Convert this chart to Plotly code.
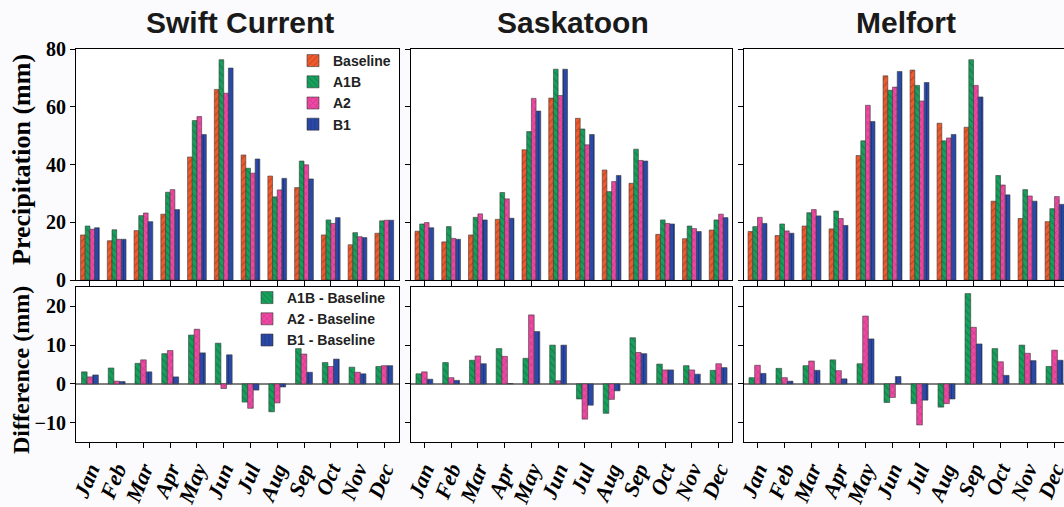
import plotly.graph_objects as go

months = ["Jan", "Feb", "Mar", "Apr", "May", "Jun", "Jul", "Aug", "Sep", "Oct", "Nov", "Dec"]
stations = ["Swift Current", "Saskatoon", "Melfort"]
scenario_names = ["Baseline", "A1B", "A2", "B1"]
diff_names = ["A1B - Baseline", "A2 - Baseline", "B1 - Baseline"]

# Monthly precipitation (mm)
sc_baseline = [15.6, 13.6, 17.1, 22.8, 42.6, 66.0, 43.3, 36.0, 32.0, 15.6, 12.2, 16.2]
sc_a1b = [18.7, 17.4, 22.3, 30.4, 55.2, 76.3, 38.7, 28.8, 41.2, 20.8, 16.4, 20.5]
sc_a2 = [17.6, 14.1, 23.2, 31.3, 56.6, 64.7, 37.0, 31.2, 39.9, 19.6, 15.0, 20.7]
sc_b1 = [18.1, 14.1, 20.2, 24.4, 50.4, 73.4, 41.9, 35.2, 35.0, 21.6, 14.7, 20.7]

sk_baseline = [16.9, 13.2, 15.6, 21.0, 45.1, 63.0, 56.0, 38.1, 33.5, 15.8, 14.3, 17.3]
sk_a1b = [19.4, 18.5, 21.7, 30.3, 51.4, 73.0, 52.3, 30.6, 45.3, 20.8, 18.7, 20.8]
sk_a2 = [19.9, 14.4, 22.9, 28.1, 62.9, 63.9, 46.8, 34.1, 41.4, 19.6, 17.8, 22.8]
sk_b1 = [18.1, 14.1, 20.8, 21.4, 58.5, 73.0, 50.4, 36.2, 41.2, 19.4, 16.8, 21.6]

mf_baseline = [16.8, 15.4, 18.7, 17.7, 43.1, 70.7, 72.7, 54.3, 52.9, 27.3, 21.3, 20.2]
mf_a1b = [18.5, 19.4, 23.3, 23.9, 48.2, 65.7, 67.4, 48.2, 76.3, 36.2, 31.3, 24.7]
mf_a2 = [21.7, 17.0, 24.4, 21.3, 60.5, 66.8, 62.0, 49.2, 67.4, 32.9, 29.1, 28.9]
mf_b1 = [19.6, 16.2, 22.2, 18.9, 54.9, 72.2, 68.4, 50.4, 63.4, 29.5, 27.3, 26.2]

# Differences from baseline (mm)
sc_d_a1b = [3.1, 4.1, 5.3, 7.8, 12.6, 10.5, -4.7, -7.2, 9.1, 5.5, 4.3, 4.5]
sc_d_a2 = [1.8, 0.7, 6.2, 8.6, 14.1, -1.2, -6.3, -4.9, 7.7, 4.5, 3.0, 4.7]
sc_d_b1 = [2.3, 0.6, 3.1, 1.8, 8.0, 7.5, -1.6, -0.8, 3.0, 6.4, 2.6, 4.7]

sk_d_a1b = [2.6, 5.5, 6.1, 9.1, 6.6, 10.0, -3.9, -7.6, 11.9, 5.1, 4.7, 3.5]
sk_d_a2 = [3.1, 1.6, 7.2, 7.1, 17.8, 0.8, -9.1, -4.0, 8.1, 3.6, 3.6, 5.2]
sk_d_b1 = [1.2, 0.9, 5.2, 0.1, 13.5, 10.0, -5.5, -1.8, 7.8, 3.6, 2.5, 4.2]

mf_d_a1b = [1.6, 4.0, 4.7, 6.2, 5.2, -4.8, -5.1, -6.0, 23.3, 9.1, 10.0, 4.5]
mf_d_a2 = [4.8, 1.6, 5.9, 3.4, 17.5, -3.5, -10.6, -5.1, 14.6, 5.7, 7.9, 8.7]
mf_d_b1 = [2.7, 0.7, 3.5, 1.3, 11.6, 1.9, -4.2, -3.9, 10.3, 2.2, 6.0, 6.1]

precip = [
    [sc_baseline, sc_a1b, sc_a2, sc_b1],
    [sk_baseline, sk_a1b, sk_a2, sk_b1],
    [mf_baseline, mf_a1b, mf_a2, mf_b1],
]
diffs = [
    [sc_d_a1b, sc_d_a2, sc_d_b1],
    [sk_d_a1b, sk_d_a2, sk_d_b1],
    [mf_d_a1b, mf_d_a2, mf_d_b1],
]

W, H = 1064, 507
def px(x):
    return x / W
def py(y):
    return 1 - y / H

styles = {
    "Baseline": dict(bg="#ee5a2c", fg="#7a2410", shape="/"),
    "A1B": dict(bg="#16a05c", fg="#0a4f2c", shape="\\"),
    "A2": dict(bg="#ee48a2", fg="#8c1c5c", shape="x"),
    "B1": dict(bg="#2a48a8", fg="#14245e", shape="|"),
}

fig = go.Figure()

top_w = 0.175
bot_w = 0.21
for s in range(3):
    xa_top = "x" if s == 0 else f"x{s+1}"
    ya_top = "y" if s == 0 else f"y{s+1}"
    xa_bot = f"x{s+4}"
    ya_bot = f"y{s+4}"
    for i, name in enumerate(scenario_names):
        st = styles[name]
        fig.add_trace(go.Bar(
            x=months, y=precip[s][i], name=name,
            xaxis=xa_top, yaxis=ya_top,
            width=top_w, offset=-2 * top_w + i * top_w,
            marker=dict(color=st["bg"], line=dict(color="#3a3a3a", width=0.6),
                        pattern=dict(shape=st["shape"], fgcolor=st["fg"], size=5,
                                     solidity=0.2, fillmode="overlay")),
            showlegend=(s == 0), legend="legend",
        ))
    for i, name in enumerate(diff_names):
        st = styles[scenario_names[i + 1]]
        fig.add_trace(go.Bar(
            x=months, y=diffs[s][i], name=name,
            xaxis=xa_bot, yaxis=ya_bot,
            width=bot_w, offset=-1.5 * bot_w + i * bot_w,
            marker=dict(color=st["bg"], line=dict(color="#3a3a3a", width=0.6),
                        pattern=dict(shape=st["shape"], fgcolor=st["fg"], size=5,
                                     solidity=0.2, fillmode="overlay")),
            showlegend=(s == 0), legend="legend2",
        ))

tickfont = dict(family="Liberation Serif", size=20, color="black", weight="bold")
xtickfont = dict(family="Liberation Serif", size=22, color="black", weight="bold", style="italic")

xdomains = [[px(76), px(399)], [px(411), px(732)], [px(744), 1.0]]
xranges = [[-0.52, 11.55], [-0.5, 11.5], [-0.5, 11.35]]
top_dom = [py(280), py(49)]
bot_dom = [py(442), py(287)]

layout = dict(
    template="none",
    width=W, height=H, autosize=False,
    margin=dict(l=0, r=0, t=0, b=0, pad=0),
    paper_bgcolor="#fbfbfd", plot_bgcolor="white",
    barmode="overlay",
    font=dict(family="Liberation Sans", color="black"),
)

for s in range(3):
    sfx_top = "" if s == 0 else str(s + 1)
    sfx_bot = str(s + 4)
    common_x = dict(domain=xdomains[s], range=xranges[s], type="category",
                    ticks="outside", ticklen=5, tickcolor="black", tickwidth=1,
                    showline=True, linecolor="black", linewidth=1, mirror=True,
                    showgrid=False, zeroline=False, automargin=False)
    layout["xaxis" + sfx_top] = dict(common_x, anchor="y" + sfx_top, showticklabels=False)
    layout["xaxis" + sfx_bot] = dict(common_x, anchor="y" + sfx_bot, showticklabels=True,
                                     tickangle=-68, tickfont=xtickfont)
    mirror_y = True if s < 2 else False
    layout["yaxis" + sfx_top] = dict(domain=top_dom, range=[0, 80], anchor="x" + sfx_top,
                                     tickvals=[0, 20, 40, 60, 80], ticks="outside", ticklen=5,
                                     tickcolor="black", tickwidth=1, showline=True, linecolor="black",
                                     linewidth=1, mirror=mirror_y, showgrid=False, zeroline=False,
                                     showticklabels=(s == 0), tickfont=tickfont, automargin=False)
    layout["yaxis" + sfx_bot] = dict(domain=bot_dom, range=[-15, 25], anchor="x" + sfx_bot,
                                     tickvals=[-10, 0, 10, 20], ticks="outside", ticklen=5,
                                     tickcolor="black", tickwidth=1, showline=True, linecolor="black",
                                     linewidth=1, mirror=mirror_y, showgrid=False,
                                     zeroline=True, zerolinecolor="#808080", zerolinewidth=1.5,
                                     showticklabels=(s == 0), tickfont=tickfont, automargin=False)

layout["legend"] = dict(x=px(293), y=py(45), xanchor="left", yanchor="top",
                        bgcolor="rgba(0,0,0,0)", borderwidth=0, tracegroupgap=0,
                        font=dict(family="Liberation Sans", size=14, weight="bold", color="#222"))
layout["legend2"] = dict(x=px(247), y=py(282), xanchor="left", yanchor="top",
                         bgcolor="rgba(0,0,0,0)", borderwidth=0, tracegroupgap=0,
                         font=dict(family="Liberation Sans", size=14, weight="bold", color="#222"))

annotations = []
title_x = [240, 572.5, 906]
for s in range(3):
    annotations.append(dict(text=stations[s], x=px(title_x[s]), y=py(22), xref="paper", yref="paper",
                            xanchor="center", yanchor="middle", showarrow=False,
                            font=dict(family="Liberation Sans", size=30, weight="bold", color="#1a1a1a")))
annotations.append(dict(text="Precipitation (mm)", x=px(21), y=py(160), xref="paper", yref="paper",
                        xanchor="center", yanchor="middle", textangle=-90, showarrow=False,
                        font=dict(family="Liberation Serif", size=26, weight="bold", color="black")))
annotations.append(dict(text="Difference (mm)", x=px(21), y=py(370), xref="paper", yref="paper",
                        xanchor="center", yanchor="middle", textangle=-90, showarrow=False,
                        font=dict(family="Liberation Serif", size=24, weight="bold", color="black")))
layout["annotations"] = annotations

fig.update_layout(**layout)
fig.write_html("out.html", config={"displayModeBar": False},
               post_script="document.body.style.margin='0';document.body.style.overflow='hidden';")
